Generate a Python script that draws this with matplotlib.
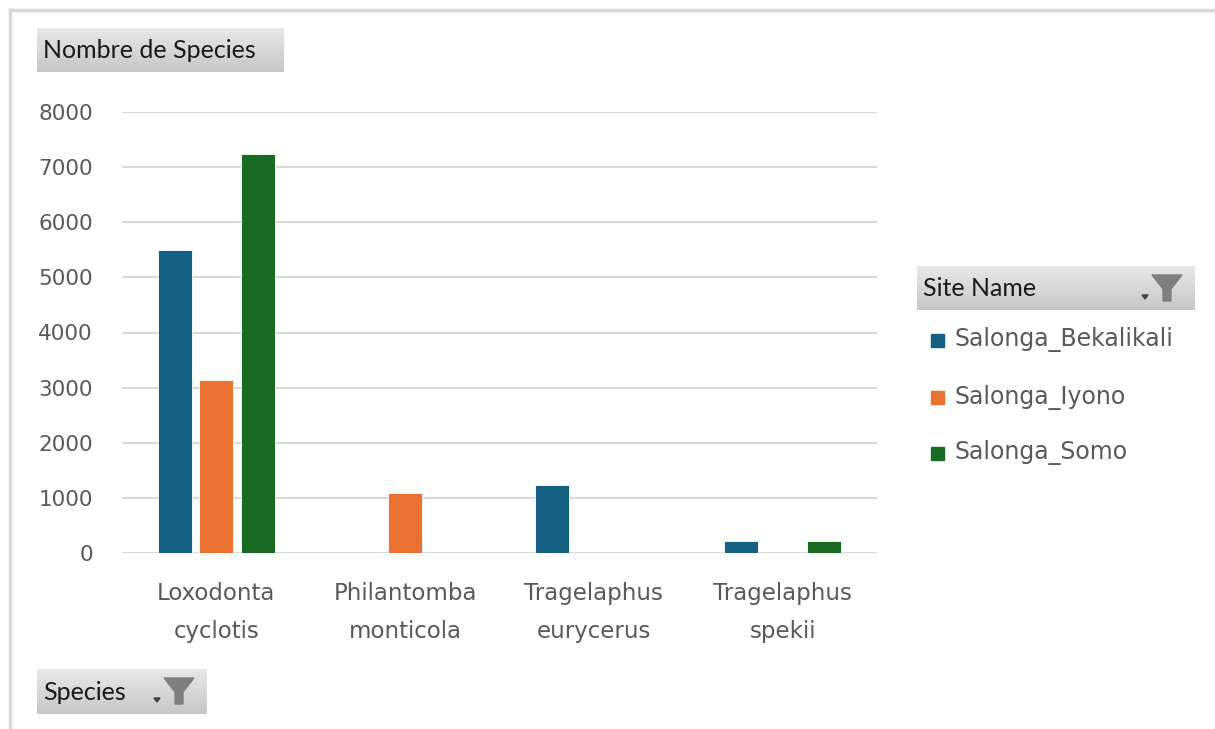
import matplotlib.pyplot as plt
import numpy as np
from matplotlib.patches import Rectangle, Polygon
from matplotlib.lines import Line2D

# data
species = ["Loxodonta\ncyclotis", "Philantomba\nmonticola", "Tragelaphus\neurycerus", "Tragelaphus\nspekii"]
sites = ["Salonga_Bekalikali", "Salonga_Iyono", "Salonga_Somo"]
bekalikali = [5490, 0, 1235, 210]
iyono = [3140, 1085, 0, 0]
somo = [7240, 0, 0, 210]
colors = ["#156082", "#E97132", "#196B24"]

W, H = 1215, 729
fig = plt.figure(figsize=(W / 100, H / 100), dpi=100, facecolor="white")
plt.rcParams['font.family'] = ['DejaVu Sans']


def fx(px):
    return px / W


def fy(py):
    return 1 - py / H


# outer chart border (top and left only visible)
fig.lines.append(Line2D([fx(10), 1], [fy(10), fy(10)], transform=fig.transFigure,
                        color="#d9d9d9", lw=2.5))
fig.lines.append(Line2D([fx(10), fx(10)], [fy(10), 0], transform=fig.transFigure,
                        color="#d9d9d9", lw=2.5))

ax = fig.add_axes([fx(122), fy(553), fx(877) - fx(122), fy(112) - fy(553)])
x = np.arange(len(species))
bw = 0.18
step = 0.22
for i, (vals, c, name) in enumerate(zip([bekalikali, iyono, somo], colors, sites)):
    xs = x + (i - 1) * step
    v = np.array(vals, dtype=float)
    mask = v > 0
    ax.bar(xs[mask], v[mask], width=bw, color=c, label=name,
           edgecolor="white", linewidth=0.6, zorder=3)

ax.set_xlim(-0.5, 3.5)
ax.set_ylim(0, 8000)
ax.set_yticks(range(0, 8001, 1000))
ax.grid(axis="y", color="#d9d9d9", lw=1.5, zorder=0)
for s in ax.spines.values():
    s.set_visible(False)
ax.tick_params(axis="x", length=0, labelsize=16.5, labelcolor="#595959", pad=21)
ax.tick_params(axis="y", length=0, labelsize=15.5, labelcolor="#595959", pad=21)
ax.set_xticks(x)
ax.set_xticklabels(species, linespacing=1.85)


def button(x0, y0, x1, y1, text, funnel=False):
    bax = fig.add_axes([fx(x0), fy(y1), fx(x1) - fx(x0), fy(y0) - fy(y1)])
    grad = np.linspace(0.91, 0.78, 50).reshape(-1, 1)
    bax.imshow(np.dstack([grad, grad, grad]), aspect="auto", extent=[0, 1, 0, 1])
    bax.set_xlim(0, 1)
    bax.set_ylim(0, 1)
    bax.axis("off")
    fig.text(fx(x0 + 6), fy((y0 + y1) / 2 + 1), text, fontsize=18,
             color="#1a1a1a", va="center", ha="left", family=['Lato', 'DejaVu Sans'])
    if funnel:
        cx = x1 - 28
        cy0 = y0 + 9
        pts = [(cx - 15, cy0), (cx + 15, cy0), (cx + 4, cy0 + 14),
               (cx + 4, cy0 + 26), (cx - 4, cy0 + 26), (cx - 4, cy0 + 14)]
        fig.patches.append(Polygon([(fx(a), fy(b)) for a, b in pts], closed=True,
                                   transform=fig.transFigure, color="#7f7f7f"))
        arr = [(cx - 25, cy0 + 20), (cx - 19, cy0 + 20), (cx - 22, cy0 + 24)]
        fig.patches.append(Polygon([(fx(a), fy(b)) for a, b in arr], closed=True,
                                   transform=fig.transFigure, color="#404040"))


button(37, 28, 284, 72, "Nombre de Species")
button(917, 266, 1195, 310, "Site Name", funnel=True)
button(37, 669, 207, 714, "Species", funnel=True)

# legend
leg_y = [340, 397, 453]
for name, c, ly in zip(sites, colors, leg_y):
    fig.patches.append(Rectangle((fx(931), fy(ly + 7)), fx(13), fy(0) - fy(13),
                                 transform=fig.transFigure, color=c))
    fig.text(fx(954), fy(ly), name, fontsize=17, color="#595959",
             va="center", ha="left")

fig.savefig("out.png", dpi=100, facecolor="white")
